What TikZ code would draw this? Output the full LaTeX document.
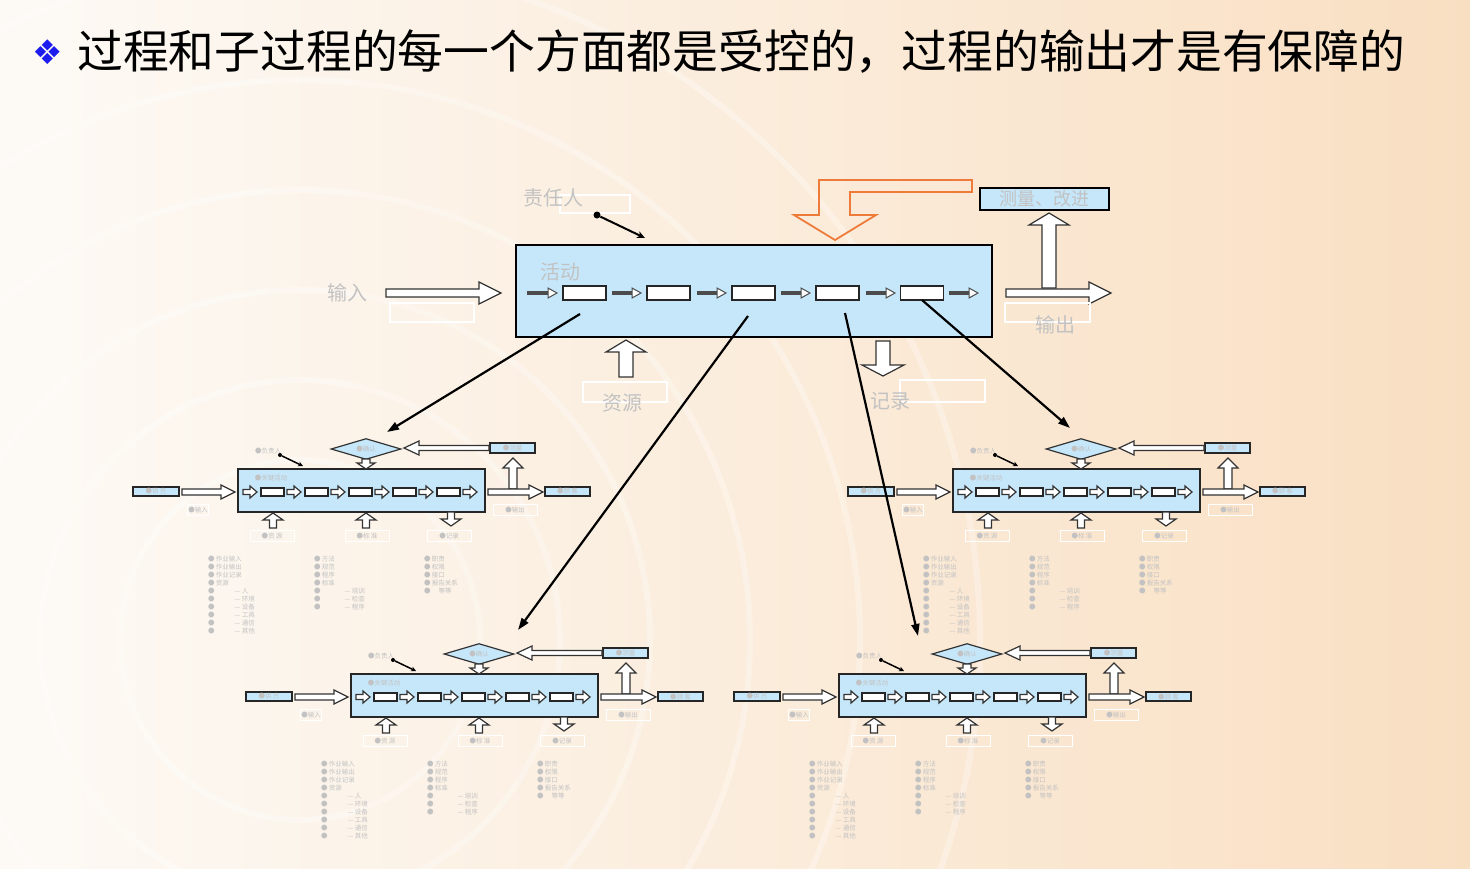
\documentclass[tikz,border=0pt]{standalone}
\usepackage{fontspec}
\setmainfont{DejaVu Sans}
\newfontfamily\cjk{Noto Sans CJK SC}
\newfontfamily\symfont{DejaVu Sans}
\usepackage{xcolor}
\usetikzlibrary{calc}
\usetikzlibrary{positioning}
\usetikzlibrary{arrows.meta}
\usetikzlibrary{shapes.geometric}
\definecolor{boxBlue}{HTML}{C6E7FA}
\definecolor{faintText}{HTML}{C2C2C2}
\definecolor{ctrlOrange}{HTML}{EE7B3A}
\definecolor{bulletBlue}{HTML}{1C1CF0}
\definecolor{bgLeft}{HTML}{FDFAF6}
\definecolor{bgRight}{HTML}{F9DFC2}

% hollow block arrows: from, to, at, shaft half width, head half width, head length
\newcommand{\hbarrow}[6]{%
	\pgfmathsetmacro{\hd}{(#2>#1) ? #6 : -#6}
	\draw[hollow] (#1,#3-#4) -- ({#2-(\hd)},#3-#4) -- ({#2-(\hd)},#3-#5) -- (#2,#3)
		-- ({#2-(\hd)},#3+#5) -- ({#2-(\hd)},#3+#4) -- (#1,#3+#4) -- cycle;}
\newcommand{\vbarrow}[6]{%
	\pgfmathsetmacro{\hd}{(#3>#2) ? #6 : -#6}
	\draw[hollow] (#1-#4,#2) -- (#1-#4,{#3-(\hd)}) -- (#1-#5,{#3-(\hd)}) -- (#1,#3)
		-- (#1+#5,{#3-(\hd)}) -- (#1+#4,{#3-(\hd)}) -- (#1+#4,#2) -- cycle;}
\newcommand{\smallarrow}[3]{\hbarrow{#1}{#2}{#3}{2.5}{6}{7}}
\newcommand{\mainarrow}[3]{%
	\fill[gray!60!black] (#1,#3-2) rectangle (#2-8,#3+2);
	\draw[fill=white, draw=gray!60!black, line width=1pt] (#2-9,#3-5) -- (#2,#3) -- (#2-9,#3+5) -- cycle;}

% one sub-process, drawn with its box's top left corner at (#2,#3)
\newcommand{\subproc}[3]{%
	\begin{scope}[shift={(#2,#3)}]
		\node[subbox, minimum width=247pt, minimum height=43pt] (#1-box) at (123.5,21.5) {};
		\node[tiny label] (#1-act) at (33,9) {●关键活动};
		\foreach \k in {0,...,4} {
			\smallarrow{5+44*\k}{19+44*\k}{23}
			\node[chainbox, minimum width=23pt, minimum height=8pt] (#1-step-\k) at ({34.5+44*\k},23) {};
		}
		\smallarrow{225}{239}{23}
		% check diamond and measurement
		\node[check, minimum width=70pt, minimum height=21pt] (#1-check) at (128,-20) {};
		\node[tiny label] at (#1-check) {●确认};
		\vbarrow{128}{-10}{0}{4}{9}{6}
		\node[subbox, minimum width=45pt, minimum height=10pt] (#1-meas) at (274.5,-21) {};
		\node[tiny label] at (#1-meas) {●测量};
		\hbarrow{251}{166}{-21}{2.5}{7}{15}
		\vbarrow{275}{20}{-11}{4}{10}{10}
		% supplier, input, output, customer
		\node[subbox, minimum width=46pt, minimum height=9pt] (#1-supp) at (-82,22.5) {};
		\node[tiny label] at (#1-supp) {●供 方};
		\hbarrow{-56}{-3}{23}{3}{7}{14}
		\hbarrow{250}{305}{23}{3}{7}{14}
		\node[subbox, minimum width=45pt, minimum height=9pt] (#1-cust) at (329.5,22.5) {};
		\node[tiny label] at (#1-cust) {●顾 客};
		\node[tiny label, framed] (#1-in) at (-40,41) {●输入};
		\node[tiny label, framed, minimum width=44pt] (#1-out) at (277,41) {●输出};
		% responsible person
		\node[tiny label] (#1-resp) at (30,-18) {●负责人};
		\node[circle, fill=black, inner sep=0pt, minimum size=4pt] (#1-pin) at (42,-14) {};
		\coordinate (#1-pin-end) at (65,-3);
		\draw[line width=1.5pt, -{Stealth[length=5pt, width=5pt]}] (#1-pin) -- (#1-pin-end);
		% resources, standards, records
		\vbarrow{35}{59}{44}{3.5}{10}{7}
		\vbarrow{128}{59}{44}{3.5}{10}{7}
		\vbarrow{213}{43}{57}{3.5}{10}{7}
		\node[tiny label, framed, minimum width=44pt] (#1-res) at (34,67) {●资 源};
		\node[tiny label, framed, minimum width=44pt] (#1-std) at (129,67) {●标 准};
		\node[tiny label, framed, minimum width=44pt] (#1-rec) at (211,67) {●记录};
		% lists
		\node[list col] (#1-list-a) at (-30,87) {●\,作业输入\\●\,作业输出\\●\,作业记录\\●\,资源\\●\hspace{20pt}— 人\\●\hspace{20pt}— 环境\\●\hspace{20pt}— 设备\\●\hspace{20pt}— 工具\\●\hspace{20pt}— 通信\\●\hspace{20pt}— 其他};
		\node[list col] (#1-list-b) at (76,87) {●\,方法\\●\,规范\\●\,程序\\●\,标准\\●\hspace{24pt}— 培训\\●\hspace{24pt}— 检查\\●\hspace{24pt}— 程序};
		\node[list col] (#1-list-c) at (186,87) {●\,职责\\●\,权限\\●\,接口\\●\,报告关系\\●\hspace{8pt}等等};
	\end{scope}}

\begin{document}
\begin{tikzpicture}[
		x=1pt, y=-1pt,
		hollow/.style={draw=black!80, fill=white, line width=1.2pt, line join=miter},
		mainbox/.style={draw=black, fill=boxBlue, line width=2.5pt, inner sep=0pt},
		subbox/.style={draw=black!85, fill=boxBlue, line width=1.4pt, inner sep=0pt},
		chainbox/.style={draw=black!85, fill=white, line width=1.2pt, inner sep=0pt},
		check/.style={diamond, draw=black!80, fill=boxBlue, line width=1.2pt, inner sep=0pt, aspect=3.5},
		faint label/.style={font=\cjk\fontsize{20}{22}\selectfont, text=faintText},
		tiny label/.style={font=\cjk\fontsize{6.5}{7}\selectfont, text=faintText, inner sep=1pt},
		framed/.style={draw=white, line width=0.8pt, minimum height=11pt},
		list col/.style={anchor=north west, align=left, inner sep=0pt, text=faintText, font=\cjk\fontsize{6.5}{8}\selectfont},
		link/.style={draw=black, line width=2.2pt, -{Triangle[length=12pt, width=8pt]}},
		ring/.style={draw=white, line width=6pt, opacity=0.3},
	]
	% background
	\useasboundingbox (0,0) rectangle (1470,868);
	\shade[left color=bgLeft, right color=bgRight] (0,0) rectangle (1470,868);
	\begin{scope}
		\clip (0,0) rectangle (1470,868);
		\foreach \r in {180,260,350,450,560,680} {
			\draw[ring] (300,640) circle (\r);
		}
	\end{scope}
	% title
	\node[text=bulletBlue, font=\symfont\fontsize{34}{36}\selectfont, inner sep=0pt] (bullet) at (48,52) {❖};
	\node[anchor=west, font=\cjk\fontsize{45.8}{48}\selectfont, inner sep=0pt] (title) at (77,52) {过程和子过程的每一个方面都是受控的，过程的输出才是有保障的};
	% main process
	\node[mainbox, minimum width=476pt, minimum height=92pt] (main) at (754,291) {};
	\node[faint label] (act) at (560,272) {活动};
	\foreach \a/\b in {527/557, 612/641, 697/726, 781/810, 866/895, 949/978} {
		\mainarrow{\a}{\b}{293}
	}
	\foreach \c [count=\i] in {584.5, 668.5, 753.5, 837.5, 922} {
		\node[chainbox, minimum width=43pt, minimum height=14pt] (step \i) at (\c,293) {};
	}
	% input and output
	\node[faint label] (in) at (347,293) {输入};
	\draw[white, line width=1.5pt] (390,303) rectangle (474,322);
	\hbarrow{386}{501}{293}{4}{11}{22}
	\hbarrow{1006}{1111}{293}{4}{11}{22}
	\draw[white, line width=1.5pt] (1005,303) rectangle (1090,322);
	\node[faint label] (out) at (1055,325) {输出};
	% measurement
	\node[mainbox, minimum width=129pt, minimum height=22pt] (measure) at (1044.5,199) {};
	\node[faint label, font=\cjk\fontsize{18}{20}\selectfont] at (measure) {测量、改进};
	\vbarrow{1049}{288}{213}{7}{20}{12}
	% control
	\draw[ctrlOrange, line width=1.8pt, line join=miter] (972,180) -- (819,180) -- (819,215) -- (794,215) -- (835,240) -- (876,215) -- (850,215) -- (850,192) -- (972,192) -- cycle;
	% responsible person
	\draw[white, line width=1.5pt] (560,195) rectangle (630,213);
	\node[faint label] (resp) at (553,198) {责任人};
	\node[circle, fill=black, inner sep=0pt, minimum size=7pt] (pin) at (597,215) {};
	\coordinate (pin end) at (645,238);
	\draw[line width=2pt, -{Stealth[length=8pt, width=7pt]}] (pin) -- (pin end);
	% resources and records
	\vbarrow{626}{377}{340}{7}{20}{12}
	\draw[white, line width=1.5pt] (583,382) rectangle (667,402);
	\node[faint label] (res) at (622,403) {资源};
	\vbarrow{883}{341}{376}{7}{21}{11}
	\draw[white, line width=1.5pt] (900,380) rectangle (985,402);
	\node[faint label] (rec) at (890,401) {记录};
	% sub-processes
	\subproc{tl}{238}{469}
	\subproc{tr}{953}{469}
	\subproc{bl}{351}{674}
	\subproc{br}{839}{674}
	% links down to the sub-processes
	\coordinate (from tl) at (580,314);
	\coordinate (from bl) at (748,316);
	\coordinate (from br) at (845,313);
	\coordinate (from tr) at (922,300);
	\coordinate (to tl) at (387,432);
	\coordinate (to bl) at (518,630);
	\coordinate (to br) at (918,636);
	\coordinate (to tr) at (1070,428);
	\draw[link] (from tl) -- (to tl);
	\draw[link] (from bl) -- (to bl);
	\draw[link] (from br) -- (to br);
	\draw[link] (from tr) -- (to tr);
\end{tikzpicture}
\end{document}
